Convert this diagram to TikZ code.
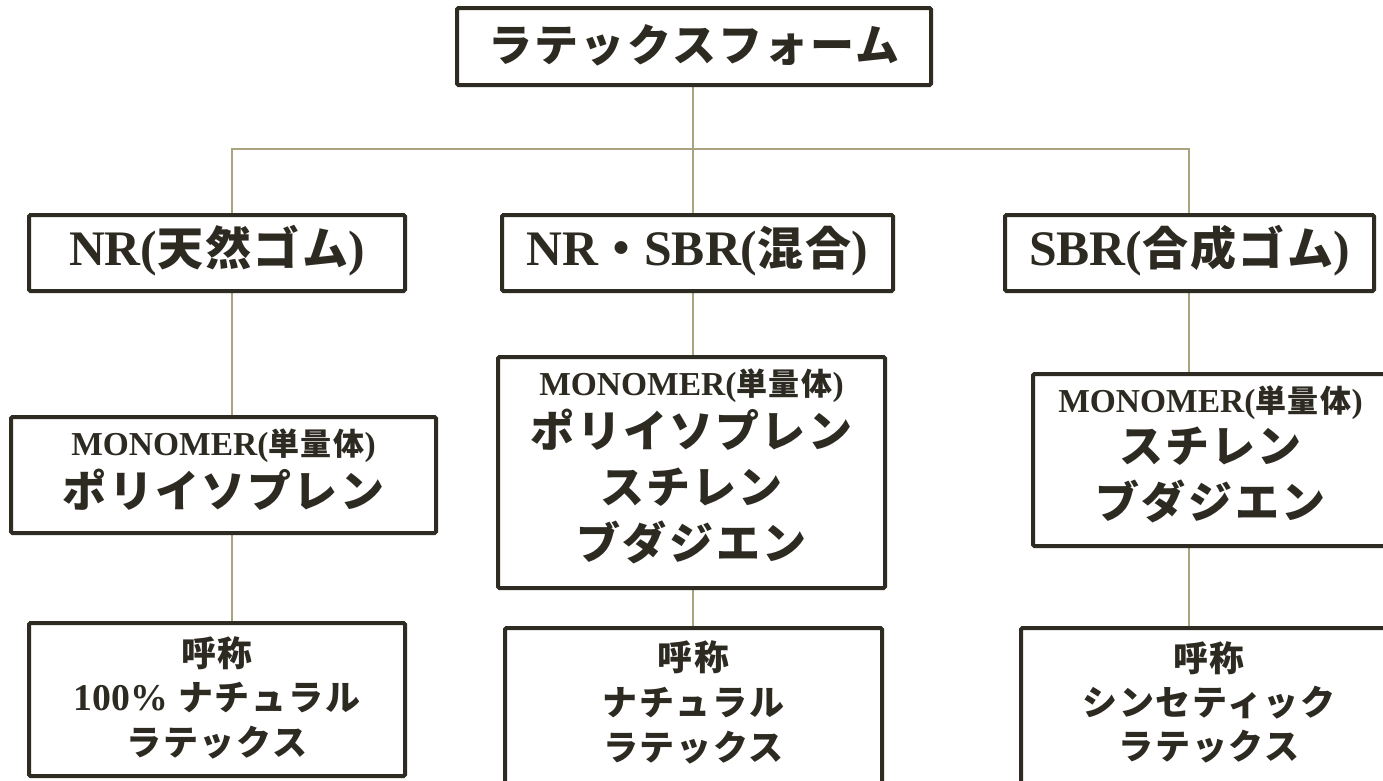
\documentclass[tikz,border=0pt]{standalone}
\usepackage{fontspec}
\setmainfont{Noto Sans CJK JP}[LetterSpace=5]
\newfontfamily\lat{Liberation Serif}[Scale=1.08]
\usetikzlibrary{backgrounds}
\definecolor{boxc}{HTML}{2E2B22}
\definecolor{txtc}{HTML}{2D2A22}
\definecolor{linec}{HTML}{A9A37F}
\newcommand{\fsz}[2]{\fontsize{#1}{#2}\selectfont}
\tikzset{
  box/.style={draw=boxc, line width=4pt, fill=white, rounded corners=1.5pt,
    inner sep=0pt, outer sep=0pt, anchor=north west, align=center, text=txtc},
  conn/.style={draw=linec, line width=2.6pt, line join=miter},
}
\begin{document}
\begin{tikzpicture}[x=1pt,y=-1pt]
\useasboundingbox (0,0) rectangle (1383,780);

% top
\node[box, minimum width=474pt, text height=53pt, text depth=24pt,
  font={\bfseries\fsz{44}{56}}] (root) at (457,8) {ラテックスフォーム};

% row 2
\node[box, minimum width=376pt, text height=50pt, text depth=26pt,
  font={\bfseries\fsz{46}{56}}] (nr) at (29,215) {{\lat NR(}天然ゴム{\lat )}};
\node[box, minimum width=391pt, text height=50pt, text depth=26pt,
  font={\bfseries\fsz{46}{56}}] (mix) at (502,215) {{\lat NR}・{\lat SBR(}混合{\lat )}};
\node[box, minimum width=369pt, text height=50pt, text depth=26pt,
  font={\bfseries\fsz{46}{56}}] (sbr) at (1005,215) {{\lat SBR(}合成ゴム{\lat )}};

% row 3 (node baseline = last line)
\node[box, minimum width=425pt, text height=90pt, text depth=26pt,
  font={\bfseries\fsz{44}{56}}] (mono1) at (11,417)
  {{\fsz{31}{36}{\lat MONOMER(}単量体{\lat )}}\\[-4pt]ポリイソプレン};
\node[box, minimum width=387pt, text height=202pt, text depth=29pt,
  font={\bfseries\fsz{44}{56}}] (mono2) at (498,357)
  {{\fsz{31}{36}{\lat MONOMER(}単量体{\lat )}}\\[-4pt]ポリイソプレン\\スチレン\\ブダジエン};
\node[box, minimum width=355pt, text height=144pt, text depth=28pt,
  font={\bfseries\fsz{44}{56}}] (mono3) at (1033,374)
  {{\fsz{31}{36}{\lat MONOMER(}単量体{\lat )}}\\[-6pt]スチレン\\ブダジエン};

% row 4
\node[box, minimum width=376pt, text height=132pt, text depth=21pt,
  font={\bfseries\fsz{35}{44.5}}] (name1) at (29,623)
  {呼称\\{\lat 100\%} ナチュラル\\ラテックス};
\node[box, minimum width=377pt, text height=132pt, text depth=40pt,
  font={\bfseries\fsz{35}{45}}] (name2) at (505,628)
  {呼称\\ナチュラル\\ラテックス};
\node[box, minimum width=376pt, text height=131pt, text depth=41pt,
  font={\bfseries\fsz{35}{44}}] (name3) at (1021,628)
  {呼称\\シンセティック\\ラテックス};

\coordinate (b1) at (232,149);
\coordinate (b2) at (693,149);
\coordinate (b3) at (1189,149);

\begin{scope}[on background layer]
\fill[white] (0,0) rectangle (1383,780);
\draw[conn] (b1 |- nr.north) -- (b1) -- (b3) -- (b3 |- sbr.north);
\draw[conn] (root.south -| b2) -- (b2 |- mix.north);
\draw[conn] (nr.south -| b1) -- (mono1.north -| b1);
\draw[conn] (mono1.south -| b1) -- (name1.north -| b1);
\draw[conn] (mix.south -| b2) -- (mono2.north -| b2);
\draw[conn] (mono2.south -| b2) -- (name2.north -| b2);
\draw[conn] (sbr.south -| b3) -- (mono3.north -| b3);
\draw[conn] (mono3.south -| b3) -- (name3.north -| b3);
\end{scope}
\end{tikzpicture}
\end{document}
